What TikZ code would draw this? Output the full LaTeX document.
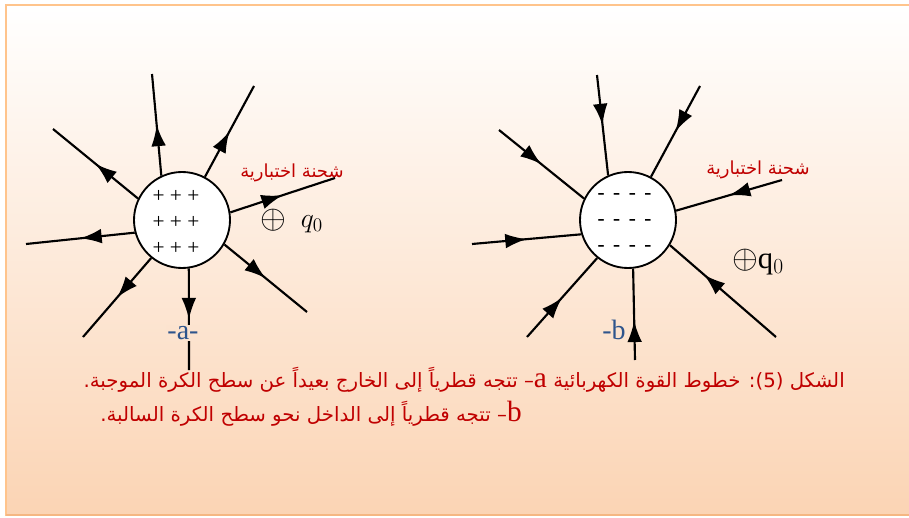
\documentclass[tikz,border=0pt]{standalone}
\usepackage{fontspec}
\usetikzlibrary{arrows.meta,decorations.markings}
\newfontfamily\arabicfont[Script=Arabic]{DejaVu Sans}
\newfontfamily\timesfont{Liberation Serif}
\TeXXeTstate=1
\definecolor{peach}{RGB}{251,212,180}
\definecolor{framec}{RGB}{255,196,140}
\definecolor{framebot}{RGB}{245,182,130}
\definecolor{capred}{RGB}{192,0,0}
\definecolor{labblue}{RGB}{46,84,140}
\newcommand{\negrow}{-\kern6.5pt-\kern6.5pt-\kern6.5pt-}

\begin{document}
\begin{tikzpicture}[x=0.75pt,y=-0.75pt,
  sphere/.style={draw,circle,line width=1.4pt,fill=white,minimum size=72pt,inner sep=0pt},
  field/.style={line width=1.6pt,postaction={decorate},
    decoration={markings,mark=at position #1 with {\arrow{Latex[length=16pt,width=11pt]}}}},
  field/.default=0.5,
  charges/.style={font=\timesfont\fontsize{16}{19.5}\selectfont,align=center,inner sep=0pt},
  testlbl/.style={font=\arabicfont\fontsize{13.5}{15}\selectfont,text=capred,inner sep=0pt},
  captext/.style={font=\arabicfont\fontsize{14.8}{17}\selectfont,text=capred,inner sep=0pt},
  sidelbl/.style={font=\timesfont\fontsize{21}{24}\selectfont,text=labblue,inner sep=1pt},
  qlbl/.style={font=\fontsize{21}{24}\selectfont,inner sep=0pt}
]
\useasboundingbox (0,0) rectangle (909,517);
\shade[top color=white,bottom color=peach] (6,6) rectangle (909,515);
\draw[framec,line width=2.2pt] (6,516) -- (6,5) -- (909,5);
\draw[framebot,line width=2.2pt] (6,515) -- (909,515);

% positive sphere (a)
\node[sphere] (pos) at (182,220) {};
\node[charges] (plus) at (176,222) {+ + +\\+ + +\\+ + +};
\coordinate (a1) at (152,74);
\coordinate (a2) at (254,86);
\coordinate (a3) at (53,129);
\coordinate (a4) at (26,244);
\coordinate (a5) at (83,337);
\coordinate (a6) at (189,370);
\coordinate (a7) at (307,312);
\coordinate (a8) at (335,178);
\draw[field] (pos.115) -- (a1);
\draw[field] (pos.62) -- (a2);
\draw[field] (pos.154) -- (a3);
\draw[field] (pos.195) -- (a4);
\draw[field] (pos.231) -- (a5);
\draw[field] (pos.278) -- (a6);
\draw[field] (pos.330) -- (a7);
\draw[field] (pos.9) -- (a8);

\node[sidelbl,fill=peach!64!white] (la) at (183,333) {-a-};
\node[testlbl] (ta) at (292,173) {\beginR شحنة اختبارية\endR};
\node[qlbl,font=\fontsize{25}{28}\selectfont] (qa) at (273,220) {$\oplus$};
\node[qlbl] (qa0) at (312,224) {$q_0$};

% negative sphere (b)
\node[sphere] (neg) at (628,220) {};
\node[charges,font=\fontsize{14}{19.5}\selectfont\bfseries] (minus) at (625,222) {\negrow\\\negrow\\\negrow};
\coordinate (b1) at (597,75);
\coordinate (b2) at (700,86);
\coordinate (b3) at (499,130);
\coordinate (b4) at (472,244);
\coordinate (b5) at (527,337);
\coordinate (b6) at (635,360);
\coordinate (b7) at (776,337);
\coordinate (b8) at (782,180);
\draw[field] (b1) -- (neg.114);
\draw[field] (b2) -- (neg.62);
\draw[field] (b3) -- (neg.154);
\draw[field] (b4) -- (neg.197);
\draw[field] (b5) -- (neg.231);
\draw[field=0.43] (b6) -- (neg.276);
\draw[field=0.68] (b7) -- (neg.329);
\draw[field] (b8) -- (neg.11);

\node[sidelbl] (lb) at (614,330) {-b};
\node[testlbl] (tb) at (758,170) {\beginR شحنة اختبارية\endR};
\node[qlbl] (qb) at (758,262) {{\fontsize{25}{28}\selectfont$\oplus$}{\timesfont\fontsize{23}{26}\selectfont q$_{\mathrm{0}}$}};

% caption
\node[captext,anchor=east] (cap1) at (845,380) {\beginR الشكل (5): خطوط القوة الكهربائية {\timesfont\fontsize{22}{22}\selectfont a}– تتجه قطرياً إلى الخارج بعيداً عن سطح الكرة الموجبة.\endR};
\node[captext,anchor=east] (cap2) at (522,414) {\beginR{\timesfont\fontsize{22}{22}\selectfont b}– تتجه قطرياً إلى الداخل نحو سطح الكرة السالبة.\endR};
\end{tikzpicture}
\end{document}
